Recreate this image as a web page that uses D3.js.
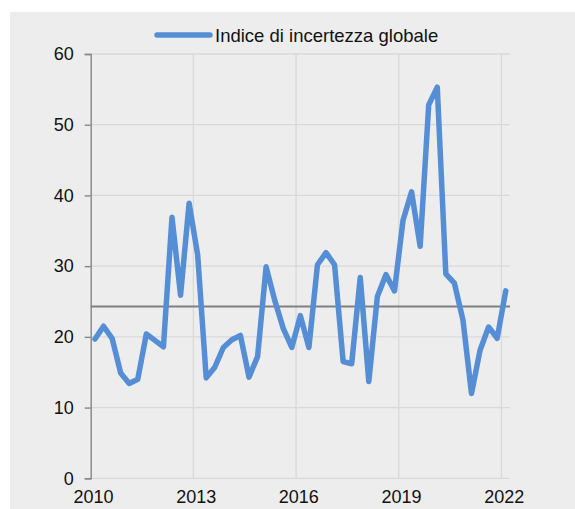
<!DOCTYPE html>
<html>
<head>
<meta charset="utf-8">
<script src="https://cdn.jsdelivr.net/npm/d3@7"></script>
<style>
  body { margin: 0; background: #fff; }
  text { font-family: "Liberation Sans", Arial, sans-serif; fill: #111; }
</style>
</head>
<body>
<script>
// quarterly data 2010Q1 - 2022Q1
var years = d3.range(2010, 2023);
var quarters = [];
years.forEach(function(yr) {
    for (var q = 1; q <= 4; q++) {
        if (yr == 2022 && q > 1) break;
        quarters.push(yr + "Q" + q);
    }
});

var values = [19.7, 21.5, 19.8, 14.9, 13.4, 14.0, 20.4, 19.5, 18.6, 36.9,
              25.9, 38.9, 31.6, 14.2, 15.7, 18.5, 19.6, 20.2, 14.3, 17.2,
              29.9, 25.2, 21.2, 18.5, 23.0, 18.5, 30.2, 31.9, 30.2, 16.5,
              16.2, 28.4, 13.7, 25.7, 28.8, 26.5, 36.5, 40.5, 32.8, 52.8,
              55.3, 28.9, 27.6, 22.4, 12.0, 18.1, 21.4, 19.8, 26.5];

var average = 24.3;
var yTicks = [0, 10, 20, 30, 40, 50, 60];
var xLabels = ["2010Q1", "2013Q1", "2016Q1", "2019Q1", "2022Q1"];
var seriesName = "Indice di incertezza globale";

var W = 575, H = 509;
var plotLeft = 90.7, plotRight = 510, plotTop = 54, plotBottom = 478.3;

var svg = d3.select("body").append("svg")
    .attr("width", W)
    .attr("height", H);

// panel background
svg.append("rect")
    .attr("x", 10).attr("y", 12)
    .attr("width", W - 10).attr("height", H - 12)
    .attr("fill", "#ededed");

var x = d3.scaleBand()
    .domain(quarters)
    .range([plotLeft, plotRight])
    .padding(0);

var y = d3.scaleLinear()
    .domain([0, 60])
    .range([plotBottom, plotTop]);

function xc(q) { return x(q) + x.bandwidth() / 2; }

// horizontal grid
svg.append("g")
    .selectAll("line")
    .data(yTicks)
    .enter().append("line")
    .attr("x1", plotLeft).attr("x2", plotRight)
    .attr("y1", function(d) { return y(d); })
    .attr("y2", function(d) { return y(d); })
    .attr("stroke", "#d9d9d9")
    .attr("stroke-width", 1.3);

// vertical grid
svg.append("g")
    .selectAll("line")
    .data(xLabels.slice(1))
    .enter().append("line")
    .attr("x1", function(d) { return x(d); })
    .attr("x2", function(d) { return x(d); })
    .attr("y1", plotTop).attr("y2", plotBottom)
    .attr("stroke", "#d9d9d9")
    .attr("stroke-width", 1.3);

// y axis
var yAxis = d3.axisLeft(y)
    .tickValues(yTicks)
    .tickSize(6)
    .tickPadding(11);

var gy = svg.append("g")
    .attr("transform", "translate(" + plotLeft + ",0)")
    .call(yAxis);
gy.select(".domain").attr("stroke", "#868686").attr("stroke-width", 1.4);
gy.selectAll(".tick line").attr("stroke", "#868686").attr("stroke-width", 1.4);
gy.selectAll("text")
    .style("font-size", "18px")
    .attr("fill", "#111");

// x labels
svg.append("g")
    .selectAll("text")
    .data(xLabels)
    .enter().append("text")
    .attr("x", function(d) { return xc(d) - 1.5; })
    .attr("y", 503)
    .attr("text-anchor", "middle")
    .style("font-size", "18px")
    .text(function(d) { return d.slice(0, 4); });

// average line
svg.append("line")
    .attr("x1", plotLeft).attr("x2", plotRight)
    .attr("y1", y(average)).attr("y2", y(average))
    .attr("stroke", "#808080")
    .attr("stroke-width", 2);

// series
var line = d3.line()
    .x(function(d, i) { return xc(quarters[i]); })
    .y(function(d) { return y(d); });

svg.append("path")
    .datum(values)
    .attr("d", line)
    .attr("fill", "none")
    .attr("stroke", "#558ed5")
    .attr("stroke-width", 5.5)
    .attr("stroke-linejoin", "round")
    .attr("stroke-linecap", "round");

// legend
var legend = svg.append("g");
legend.append("line")
    .attr("x1", 157).attr("x2", 210)
    .attr("y1", 35).attr("y2", 35)
    .attr("stroke", "#558ed5")
    .attr("stroke-width", 5.5)
    .attr("stroke-linecap", "round");
legend.append("text")
    .attr("x", 215)
    .attr("y", 41.5)
    .style("font-size", "18.5px")
    .text(seriesName);
</script>
</body>
</html>
